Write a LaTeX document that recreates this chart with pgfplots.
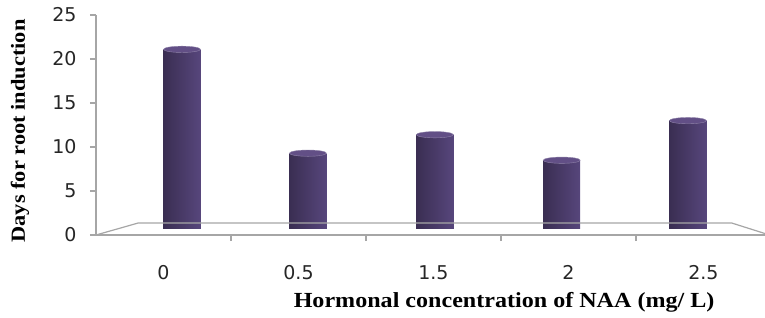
\documentclass[border=0pt]{standalone}
\usepackage{pgfplots}
\pgfplotsset{compat=1.18}
\usepackage{fontspec}
\setmainfont{Liberation Serif}
\newfontfamily\labfont[FakeStretch=1.12]{Liberation Serif}
\newfontfamily\tickfont{DejaVu Sans}
\definecolor{axgray}{HTML}{A6A6A6}
\definecolor{barL}{HTML}{3A2E52}
\definecolor{barM}{HTML}{7D68A4}
\definecolor{barR}{HTML}{57467C}
\definecolor{barTop}{HTML}{624F86}
\pgfplotsset{cyl/.style={ybar, bar width=37pt, bar shift=0pt, draw=none,
  left color=barL, middle color=barM, right color=barR}}
\begin{document}
\begin{tikzpicture}
\useasboundingbox (-96pt,-82pt) rectangle (669pt,235pt);
\begin{axis}[
  scale only axis,
  width=669pt, height=220pt,
  at={(0pt,0pt)}, anchor=south west,
  xmin=0, xmax=4.956, ymin=0, ymax=25,
  clip=false,
  axis lines*=left,
  axis line style={axgray, line width=1.4pt},
  ytick={0,5,10,15,20,25},
  tick align=outside,
  major tick length=6pt,
  tick style={axgray, line width=1.2pt},
  xtick={1,2,3,4},
  xticklabels={},
  extra x ticks={0.5,1.5,2.5,3.5,4.5},
  extra x tick labels={0,0.5,1.5,2,2.5},
  extra x tick style={major tick length=0pt, tick style={draw=none}},
  /pgf/number format/assume math mode=true,
  ticklabel style={font=\tickfont\fontsize{19}{20}\selectfont, text=black!85},
  yticklabel style={xshift=-10pt},
  xticklabel style={yshift=-27pt},
  ylabel={Days for root induction},
  xlabel={Hormonal concentration of NAA (mg/ L)},
  ylabel style={font=\labfont\bfseries\fontsize{20}{21}\selectfont, at={(axis description cs:-0.1136,0.473)}, anchor=center, rotate=0},
  xlabel style={font=\labfont\bfseries\fontsize{21.5}{22}\selectfont, at={(axis description cs:0.61,-0.305)}, anchor=center},
]
% floor
\fill[white] (axis cs:0,0) -- (axis cs:0.311,1.36) -- (axis cs:4.71,1.36) -- (axis cs:4.99,0) -- cycle;
% bars (one per category so each gets its own cylinder shading)
\addplot[cyl] coordinates {(0.637,21.1)};
\addplot[cyl] coordinates {(1.57,9.3)};
\addplot[cyl] coordinates {(2.51,11.4)};
\addplot[cyl] coordinates {(3.45,8.5)};
\addplot[cyl] coordinates {(4.385,13.0)};
\addplot[only marks, mark=*, mark size=18.5pt,
  mark options={yscale=0.17, fill=barTop, draw=barTop!70!white}]
  coordinates {(0.637,21.1) (1.57,9.3) (2.51,11.4) (3.45,8.5) (4.385,13.0)};
% cover bar bottoms in front part of floor
\fill[white] (axis cs:0.16,0.02) rectangle (axis cs:4.84,0.68);
\draw[axgray, line width=1.2pt] (axis cs:0,0) -- (axis cs:0.311,1.36) -- (axis cs:4.71,1.36) -- (axis cs:4.99,0);
\draw[axgray, line width=1.4pt] (axis cs:0,0) -- (axis cs:4.99,0);
\end{axis}
\end{tikzpicture}
\end{document}
